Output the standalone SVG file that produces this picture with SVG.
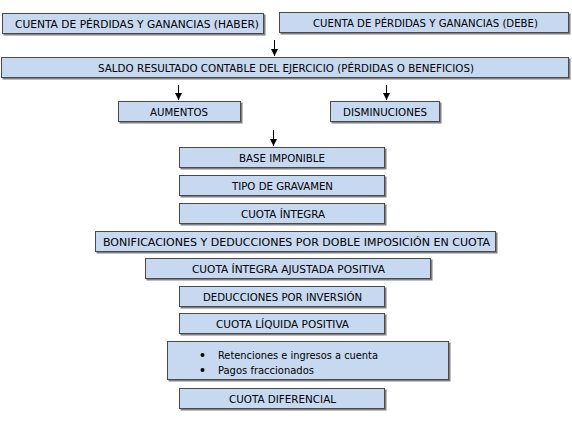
<svg xmlns="http://www.w3.org/2000/svg" width="572" height="430" viewBox="0 0 572 430">
<defs>
<style>
.box{fill:#c6d9f1;stroke:#4a4a4a;stroke-width:1}
.sh{fill:#808080}
text{font-family:"DejaVu Sans Condensed","DejaVu Sans",sans-serif;font-size:11px;fill:#000}
.con line{stroke:#000;stroke-width:1}
</style>
<marker id="ah" viewBox="0 0 8 8" refX="7" refY="4" markerWidth="8" markerHeight="8" markerUnits="userSpaceOnUse" orient="auto">
<path d="M0,0.5 L7,4 L0,7.5 Z" fill="#000"/>
</marker>
</defs>
<rect width="572" height="430" fill="#fff"/>
<g id="haber"><rect class="sh" x="3.5" y="14.5" width="262" height="21"/><rect class="box" x="2.5" y="13.5" width="261" height="20"/><text x="15" y="27.5" textLength="244" lengthAdjust="spacingAndGlyphs">CUENTA DE PÉRDIDAS Y GANANCIAS (HABER)</text></g>
<g id="debe"><rect class="sh" x="280.5" y="13.5" width="290" height="21"/><rect class="box" x="279.5" y="12.5" width="289" height="20"/><text x="313" y="26.5" textLength="225" lengthAdjust="spacingAndGlyphs">CUENTA DE PÉRDIDAS Y GANANCIAS (DEBE)</text></g>
<g id="saldo"><rect class="sh" x="2.5" y="58.5" width="568" height="21"/><rect class="box" x="1.5" y="57.5" width="567" height="20"/><text x="98" y="71.5" textLength="376" lengthAdjust="spacingAndGlyphs">SALDO RESULTADO CONTABLE DEL EJERCICIO (PÉRDIDAS O BENEFICIOS)</text></g>
<g id="aumentos"><rect class="sh" x="119.5" y="102.5" width="123" height="21"/><rect class="box" x="118.5" y="101.5" width="122" height="20"/><text x="150" y="115.5" textLength="58" lengthAdjust="spacingAndGlyphs">AUMENTOS</text></g>
<g id="disminuciones"><rect class="sh" x="331.5" y="102.5" width="110" height="21"/><rect class="box" x="330.5" y="101.5" width="109" height="20"/><text x="343" y="115.5" textLength="84" lengthAdjust="spacingAndGlyphs">DISMINUCIONES</text></g>
<g id="base"><rect class="sh" x="180.5" y="148.5" width="206" height="21"/><rect class="box" x="179.5" y="147.5" width="205" height="20"/><text x="239" y="161.5" textLength="86" lengthAdjust="spacingAndGlyphs">BASE IMPONIBLE</text></g>
<g id="tipo"><rect class="sh" x="180.5" y="176.5" width="206" height="21"/><rect class="box" x="179.5" y="175.5" width="205" height="20"/><text x="232" y="189.5" textLength="101" lengthAdjust="spacingAndGlyphs">TIPO DE GRAVAMEN</text></g>
<g id="cuota-integra"><rect class="sh" x="180.5" y="204.5" width="206" height="21"/><rect class="box" x="179.5" y="203.5" width="205" height="20"/><text x="241" y="217.5" textLength="84" lengthAdjust="spacingAndGlyphs">CUOTA ÍNTEGRA</text></g>
<g id="bonificaciones"><rect class="sh" x="96.5" y="232.5" width="401" height="21"/><rect class="box" x="95.5" y="231.5" width="400" height="20"/><text x="103" y="245.5" textLength="387" lengthAdjust="spacingAndGlyphs">BONIFICACIONES Y DEDUCCIONES POR DOBLE IMPOSICIÓN EN CUOTA</text></g>
<g id="ajustada"><rect class="sh" x="146.5" y="259.5" width="286" height="21"/><rect class="box" x="145.5" y="258.5" width="285" height="20"/><text x="192" y="272.5" textLength="193" lengthAdjust="spacingAndGlyphs">CUOTA ÍNTEGRA AJUSTADA POSITIVA</text></g>
<g id="deducciones"><rect class="sh" x="180.5" y="287.5" width="206" height="21"/><rect class="box" x="179.5" y="286.5" width="205" height="20"/><text x="203" y="300.5" textLength="159" lengthAdjust="spacingAndGlyphs">DEDUCCIONES POR INVERSIÓN</text></g>
<g id="liquida"><rect class="sh" x="180.5" y="314.5" width="206" height="21"/><rect class="box" x="179.5" y="313.5" width="205" height="20"/><text x="216" y="327.5" textLength="133" lengthAdjust="spacingAndGlyphs">CUOTA LÍQUIDA POSITIVA</text></g>
<g id="retenciones"><rect class="sh" x="168.5" y="342.5" width="282" height="39"/><rect class="box" x="167.5" y="341.5" width="281" height="38"/>
<circle cx="202.5" cy="355" r="2" fill="#000"/><circle cx="202.5" cy="370" r="2" fill="#000"/>
<text x="218" y="358.5" textLength="160" lengthAdjust="spacingAndGlyphs">Retenciones e ingresos a cuenta</text><text x="218" y="373.5" textLength="96" lengthAdjust="spacingAndGlyphs">Pagos fraccionados</text></g>
<g id="diferencial"><rect class="sh" x="180.5" y="389.5" width="206" height="21"/><rect class="box" x="179.5" y="388.5" width="205" height="20"/><text x="229" y="402.5" textLength="107" lengthAdjust="spacingAndGlyphs">CUOTA DIFERENCIAL</text></g>
<g class="con" id="connectors">
<line x1="274.5" y1="40" x2="274.5" y2="56" marker-end="url(#ah)"/>
<line x1="178.5" y1="85" x2="178.5" y2="100" marker-end="url(#ah)"/>
<line x1="386.5" y1="85" x2="386.5" y2="100" marker-end="url(#ah)"/>
<line x1="273.5" y1="130" x2="273.5" y2="146" marker-end="url(#ah)"/>
</g>
</svg>
